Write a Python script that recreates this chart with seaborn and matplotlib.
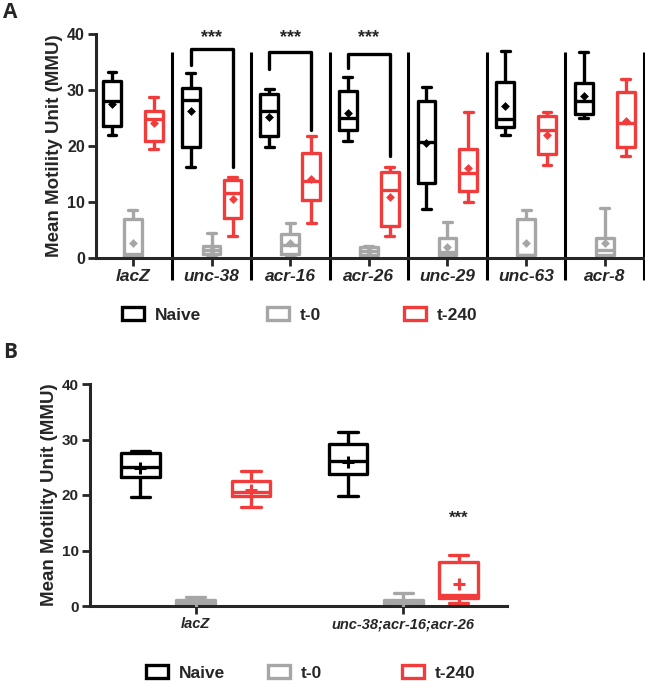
#!/usr/bin/env python3
"""Mean motility (MMU) box plots after RNAi, panels A and B."""

import matplotlib
matplotlib.use("Agg")
import pandas as pd
import matplotlib.pyplot as plt
from matplotlib.patches import Patch
import seaborn as sns

# ---- data ---------------------------------------------------------------
CONDS = ["Naive", "t-0", "t-240"]
COLORS = ["#000000", "#a6a6a6", "#f23c3c"]

GENES_A = ["lacZ", "unc-38", "acr-16", "acr-26", "unc-29", "unc-63", "acr-8"]
# (min, q1, median, q3, max) for every gene
NAIVE_A = [(21.9, 23.5, 28.0, 31.6, 33.3), (16.2, 19.8, 28.3, 30.4, 33.0),
           (19.9, 21.7, 26.3, 29.2, 30.2), (20.9, 22.8, 25.0, 29.8, 32.3),
           (8.7, 13.4, 20.8, 28.1, 30.5), (21.9, 23.4, 24.8, 31.5, 36.9),
           (25.0, 25.8, 28.1, 31.2, 36.7)]
T0_A = [(0.0, 0.4, 0.8, 6.9, 8.5), (0.2, 0.7, 1.4, 2.1, 4.5),
        (0.2, 0.7, 2.3, 4.2, 6.3), (0.2, 0.5, 1.2, 2.0, 2.1),
        (0.2, 0.5, 1.1, 3.6, 6.5), (0.0, 0.5, 0.5, 6.9, 8.5),
        (0.0, 0.5, 1.5, 3.5, 8.9)]
T240_A = [(19.4, 20.9, 24.8, 26.3, 28.7), (4.0, 7.2, 11.6, 14.0, 14.4),
          (6.2, 10.4, 13.8, 18.8, 21.7), (4.0, 5.8, 12.2, 15.3, 16.2),
          (10.0, 11.9, 15.2, 19.5, 26.0), (16.6, 18.6, 22.9, 25.3, 26.0),
          (18.2, 19.8, 24.1, 29.7, 32.0)]
MEAN_NAIVE_A = [27.5, 26.2, 25.1, 25.9, 20.5, 27.1, 29.0]
MEAN_T0_A = [2.7, 1.4, 2.7, 1.2, 2.0, 2.7, 2.6]
MEAN_T240_A = [24.1, 10.5, 14.1, 10.9, 16.1, 21.9, 24.5]

# significance brackets (Naive vs t-240)
SIG_GENES = ["unc-38", "acr-16", "acr-26"]
BRACKET_TOP = [37.3, 36.7, 36.5]
BRACKET_LEFT_END = [34.5, 33.7, 34.0]
BRACKET_RIGHT_END = [16.2, 22.8, 18.3]

GENES_B = ["lacZ", "unc-38;acr-16;acr-26"]
NAIVE_B = [(19.6, 23.2, 25.0, 27.5, 27.9), (19.9, 23.7, 26.2, 29.2, 31.3)]
T0_B = [(0.2, 0.4, 0.7, 1.1, 1.6), (0.0, 0.2, 0.5, 1.0, 2.3)]
T240_B = [(17.8, 19.8, 20.6, 22.6, 24.3), (0.5, 1.4, 1.9, 7.9, 9.2)]
MEAN_NAIVE_B = [24.8, 26.0]
MEAN_T0_B = [0.8, 0.6]
MEAN_T240_B = [20.9, 4.0]
STAR_B = 15.8

OFFSET = 0.8 / 3  # seaborn's dodge step for three hue levels


def long_frames(genes, boxes, means):
    rows, mrows = [], []
    for cond, five, avg in zip(CONDS, boxes, means):
        for gene, vals, m in zip(genes, five, avg):
            for v in vals:
                rows.append({"gene": gene, "cond": cond, "mmu": v})
            mrows.append({"gene": gene, "cond": cond, "mmu": m})
    return pd.DataFrame(rows), pd.DataFrame(mrows)


def draw_panel(ax, genes, boxes, means, marker, msize, gap, xsize, ysize):
    df, dm = long_frames(genes, boxes, means)
    sns.boxplot(data=df, x="gene", y="mmu", hue="cond", hue_order=CONDS,
                order=genes, palette=COLORS, fill=False, whis=(0, 100),
                width=0.8, gap=gap, linewidth=2.4, showfliers=False,
                legend=False, ax=ax)
    kws = dict(linewidth=2.2) if marker == "+" else dict(linewidth=0)
    sns.stripplot(data=dm, x="gene", y="mmu", hue="cond", hue_order=CONDS,
                  order=genes, palette=COLORS, dodge=True, jitter=False,
                  marker=marker, size=msize, legend=False, ax=ax, zorder=5,
                  **kws)
    ax.set_ylim(0, 40)
    ax.set_yticks([0, 10, 20, 30, 40])
    ax.set_xlabel("")
    ax.set_ylabel("Mean Motility Unit (MMU)", fontsize=13.5,
                  fontweight="bold", labelpad=3)
    ax.tick_params(axis="both", width=2, length=6, pad=2)
    ax.tick_params(axis="y", labelsize=ysize)
    ax.tick_params(axis="x", labelsize=xsize)
    for lab in ax.get_yticklabels():
        lab.set_fontweight("bold")
    for lab in ax.get_xticklabels():
        lab.set_fontweight("bold")
        lab.set_fontstyle("italic")
    for side in ["left", "bottom"]:
        ax.spines[side].set_linewidth(2.2)
    sns.despine(ax=ax)


def add_legend(fig, y, xs):
    for cond, col, x in zip(CONDS, COLORS, xs):
        h = Patch(facecolor="none", edgecolor=col, linewidth=2.4)
        fig.legend(handles=[h], labels=[cond], loc="center left",
                   bbox_to_anchor=(x, y), frameon=False, handlelength=1.3,
                   handleheight=0.75, handletextpad=0.6, borderpad=0,
                   prop={"weight": "bold", "size": 12.5})


def main():
    sns.set_style("ticks")
    plt.rcParams["font.family"] = ["Liberation Sans", "DejaVu Sans"]
    W, H = 645, 681
    fig = plt.figure(figsize=(W / 100, H / 100), dpi=100)

    # ---- panel A --------------------------------------------------------
    ax_a = fig.add_axes([96 / W, 1 - 258 / H, 548 / W, 224 / H])
    draw_panel(ax_a, GENES_A, [NAIVE_A, T0_A, T240_A],
               [MEAN_NAIVE_A, MEAN_T0_A, MEAN_T240_A], "D", 4.5, 0.15,
               12.5, 11.5)
    ax_a.set_xlim(-0.47, len(GENES_A) - 0.5)

    # group separators
    for i in range(len(GENES_A)):
        ax_a.plot([i + 0.5, i + 0.5], [-4, 36.7], color="black", lw=2.2,
                  clip_on=False, solid_capstyle="butt")

    # significance brackets
    for g, top, le, re in zip(SIG_GENES, BRACKET_TOP, BRACKET_LEFT_END,
                              BRACKET_RIGHT_END):
        i = GENES_A.index(g)
        x0, x1 = i - OFFSET, i + OFFSET
        ax_a.plot([x0, x0, x1, x1], [le, top, top, re], color="black",
                  lw=2.4, clip_on=False)
        ax_a.text(i, 39.3, "***", ha="center", va="center", fontsize=13,
                  fontweight="bold", clip_on=False)

    # ---- panel B --------------------------------------------------------
    ax_b = fig.add_axes([90 / W, 1 - 606 / H, 417 / W, 222 / H])
    draw_panel(ax_b, GENES_B, [NAIVE_B, T0_B, T240_B],
               [MEAN_NAIVE_B, MEAN_T0_B, MEAN_T240_B], "+", 9, 0.3,
               10.5, 11)
    ax_b.set_xlim(-0.51, 1.5)
    ax_b.text(1 + OFFSET, STAR_B, "***", ha="center", va="center",
              fontsize=12, fontweight="bold")

    add_legend(fig, 1 - 315 / H, [113 / W, 258 / W, 395 / W])
    add_legend(fig, 1 - 673 / H, [137 / W, 259 / W, 393 / W])

    fig.text(3 / W, 1 - 12 / H, "A", fontsize=15, fontweight="bold",
             family=["Open Sans", "DejaVu Sans"], va="center")
    fig.text(3 / W, 1 - 352 / H, "B", fontsize=15, fontweight="bold",
             family=["Open Sans", "DejaVu Sans"], va="center")

    fig.savefig("out.png", dpi=100)


if __name__ == "__main__":
    main()
